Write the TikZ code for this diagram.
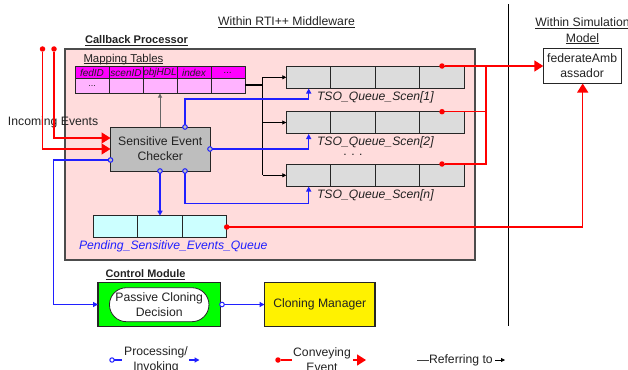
\documentclass[tikz,border=0pt]{standalone}
\usepackage{fontspec}
\setmainfont{Liberation Sans}
\usetikzlibrary{arrows.meta,calc,shapes.misc}
\definecolor{txt}{HTML}{222222}
\definecolor{pinkbg}{HTML}{FFDCDC}
\definecolor{magh}{HTML}{FF00FF}
\definecolor{magl}{HTML}{FFB3FF}
\definecolor{qgray}{HTML}{DCDCDC}
\definecolor{chkgray}{HTML}{BEBEBE}
\definecolor{cyanl}{HTML}{CCFFFF}
\definecolor{myblue}{HTML}{2020FF}
\tikzset{
  x=1pt,y=-1pt,
  every node/.style={font=\fontsize{12.2}{14}\selectfont,text=txt,inner sep=0pt,outer sep=0pt},
  boxed/.style={draw=black!85,line width=0.9pt,anchor=north west,align=center},
  cell/.style={draw=black!85,line width=0.9pt,anchor=north west,minimum height=22pt},
  qcell/.style={cell,fill=qgray,minimum width=44.5pt},
  pcell/.style={cell,fill=cyanl,minimum width=44.4pt},
  hcell/.style={draw=black!85,line width=0.9pt,anchor=north west,fill=magh,minimum width=34pt,minimum height=12.5pt,font=\fontsize{10}{11}\selectfont\itshape},
  lcell/.style={draw=black!85,line width=0.9pt,anchor=north west,fill=magl,minimum width=34pt,minimum height=15pt,font=\fontsize{9}{11}\selectfont},
  lbl/.style={align=center},
  qlabel/.style={anchor=west,font=\fontsize{12.2}{14}\selectfont\itshape},
  proc/.style={draw=myblue,line width=1.25pt,-{Triangle[length=5pt,width=5pt]}},
  procn/.style={draw=myblue,line width=1.25pt},
  conv/.style={draw=red,line width=1.1pt},
  convb/.style={draw=red,line width=1.5pt,-{Triangle[length=9pt,width=11pt]}},
  refer/.style={draw=black,line width=0.8pt,-{Triangle[length=4pt,width=4pt]}},
  odot/.style={circle,draw=myblue,line width=1pt,fill=none,minimum size=4.6pt},
  rdot/.style={circle,fill=red,minimum size=5.5pt},
}
\begin{document}
\begin{tikzpicture}
\useasboundingbox (0,0) rectangle (628,369);
% panels
\node[boxed,fill=pinkbg,draw=black!70,line width=1.1pt,minimum width=410pt,minimum height=211pt] (cp) at (65,49) {};
\draw[black,line width=0.9pt] (508,4.5) coordinate (sepa) -- (508,326) coordinate (sepb);
% headings
\node[lbl] (h1) at (286.5,22.5) {\underline{Within RTI++ Middleware}};
\node[lbl,font=\fontsize{12.2}{15.5}\selectfont] (h2) at (582.5,31) {\underline{Within Simulation}\\\underline{Model}};
\node[lbl,anchor=west,font=\fontsize{11.1}{12}\selectfont\bfseries] (h3) at (85,41) {\underline{Callback Processor}};
\node[lbl,anchor=base west,font=\fontsize{11.4}{12}\selectfont] (h4) at (83.5,62) {Mapping Tables};
\draw[txt,line width=0.6pt] ([yshift=-1.3pt]h4.base west) -- ([yshift=-1.3pt]h4.base east);
\node[lbl,anchor=west,font=\fontsize{10.9}{12}\selectfont\bfseries] (h5) at (105.5,274.5) {\underline{Control Module}};
% mapping table
\node[hcell] (t1) at (75,66.5) {fedID};
\node[hcell] (t2) at (109,66.5) {scenID};
\node[hcell] (t3) at (143,66.5) {objHDL};
\node[hcell] (t4) at (177,66.5) {index};
\node[hcell] (t5) at (211,66.5) {...};
\node[lcell] (b1) at (75,78.5) {...};
\node[lcell] (b2) at (109,78.5) {};
\node[lcell] (b3) at (143,78.5) {};
\node[lcell] (b4) at (177,78.5) {};
\node[lcell] (b5) at (211,78.5) {};
% queues
\foreach \n/\y in {a/66,b/111.5,c/164}{
  \node[qcell] (q\n1) at (286.3,\y) {};
  \node[qcell] (q\n2) at (330.8,\y) {};
  \node[qcell] (q\n3) at (375.3,\y) {};
  \node[qcell] (q\n4) at (419.8,\y) {};
}
\node[qlabel] (la) at (317,97) {TSO\_Queue\_Scen[1]};
\node[qlabel] (lb) at (317,142.5) {TSO\_Queue\_Scen[2]};
\node[qlabel] (lc) at (317,195.5) {TSO\_Queue\_Scen[n]};
\node (dots) at (353,155) {. . .};
% pending queue
\node[pcell] (p1) at (93.3,215.7) {};
\node[pcell] (p2) at (137.7,215.7) {};
\node[pcell] (p3) at (182.1,215.7) {};
\node[anchor=west,text=myblue,font=\fontsize{12.2}{14}\selectfont\itshape] (pl) at (79,246.5) {Pending\_Sensitive\_Events\_Queue};
% checker
\node[boxed,fill=chkgray,minimum width=99.5pt,minimum height=44pt,font=\fontsize{12.2}{15}\selectfont] (chk) at (110.5,127) {Sensitive Event\\Checker};
% control module
\node[boxed,fill=green,line width=1.2pt,minimum width=122.3pt,minimum height=44.4pt] (cm) at (98,282.3) {};
\node[draw=black!85,line width=0.8pt,fill=white,rounded rectangle,minimum width=99.5pt,minimum height=34pt,align=center,font=\fontsize{12.2}{15}\selectfont] (pcd) at (159.2,304.7) {Passive Cloning\\Decision};
\node[boxed,fill=yellow,line width=1.2pt,minimum width=110.5pt,minimum height=44.4pt] (clm) at (264.5,282.3) {Cloning Manager};
% federate ambassador
\node[boxed,fill=white,minimum width=77.7pt,minimum height=34.3pt,font=\fontsize{12.2}{15.5}\selectfont] (fed) at (543.3,48.7) {federateAmb\\assador};
% incoming label
\node[anchor=west] (inc) at (8,122.5) {Incoming Events};
% red free ends
\node[rdot] (ra) at (42.5,49) {};
\node[rdot] (rb) at (54,49) {};
\draw[conv,line width=1.3pt] (ra) |- (100,149) coordinate (ia);
\draw[conv,line width=1.3pt] (rb) |- (100,138) coordinate (ib);
\draw[convb] (ia) -- (chk.west |- ia);
\draw[convb] (ib) -- (chk.west |- ib);
% referring
\draw[refer,draw=black!60,line width=1pt] (chk.north -| t3.south) -- (t3.south |- b3.south);
\coordinate (j1) at (262.5,85);
\draw[black,line width=1.4pt] (b5.east |- j1) -- (j1);
\draw[black,line width=0.8pt] (262.5,77.3) coordinate (jt) -- (262.5,175.3) coordinate (jb);
\draw[refer] (jt) -- (qa1.west |- jt);
\draw[refer] (262.5,122.5) coordinate (jm) -- (qb1.west |- jm);
\draw[refer] (jb) -- (qc1.west |- jb);
% processing
\coordinate (o1) at (185,127);
\coordinate (o2) at (210,149);
\coordinate (o3) at (185,171);
\coordinate (o4) at (160,171);
\coordinate (o5) at (110.5,160);
\coordinate (o6) at (222,304.5);
\draw[proc] (o1) |- (308.7,99) coordinate (c1) -- (308.7,88.5);
\draw[proc] (o2) -| (308.7,134);
\draw[proc] (o3) |- (308.7,203.3) coordinate (c3) -- (308.7,186.5);
\draw[proc] (o4) -- (o4 |- p2.north);
\draw[proc] (o5) -| (53.7,304.5) coordinate (c5) -- (cm.west |- c5);
\draw[proc] (o6) -- (clm.west |- o6);
\foreach \c in {o1,o2,o3,o4,o5}{\node[odot,fill=chkgray] at (\c) {};}
\node[odot,fill=white] at (o6) {};
% conveying
\node[rdot] (d1) at (442,66) {};
\node[rdot] (d2) at (442,111.7) {};
\node[rdot] (d3) at (442,164) {};
\node[rdot] (d4) at (226.7,227) {};
\draw[conv] (d2) -| (486,66) coordinate (rj);
\draw[conv] (d3) -| (rj);
\draw[convb] (d1) -- (fed.west |- d1);
\draw[convb,line width=1.3pt] (d4) -| (582.7,83.5);
% legend
\node[font=\fontsize{12.2}{15}\selectfont,align=center] (lg1) at (156,360) {Processing/\\Invoking};
\node[font=\fontsize{12.2}{15}\selectfont,align=center] (lg2) at (322,360) {Conveying\\Event};
\node[anchor=west] (lg3) at (429,360.5) {Referring to};
\node[odot,fill=white,minimum size=4.4pt] (lo) at (112,360) {};
\draw[procn] (lo) -- (122,360) coordinate (lo2);
\coordinate (la1) at (189,360); \coordinate (la2) at (199.5,360);
\draw[proc] (la1) -- (la2);
\node[rdot] (lr) at (278,360) {};
\draw[conv,line width=1.3pt] (lr) -- (292,360) coordinate (lr2);
\coordinate (lc1) at (353,360); \coordinate (lc2) at (366,360);
\draw[convb] (lc1) -- (lc2);
\draw[black!75,line width=0.9pt] (417,360) coordinate (lk1) -- (lg3.west |- lk1);
\coordinate (lk2) at (495,360); \coordinate (lk3) at (505,360);
\draw[refer] (lk2) -- (lk3);
\end{tikzpicture}
\end{document}
